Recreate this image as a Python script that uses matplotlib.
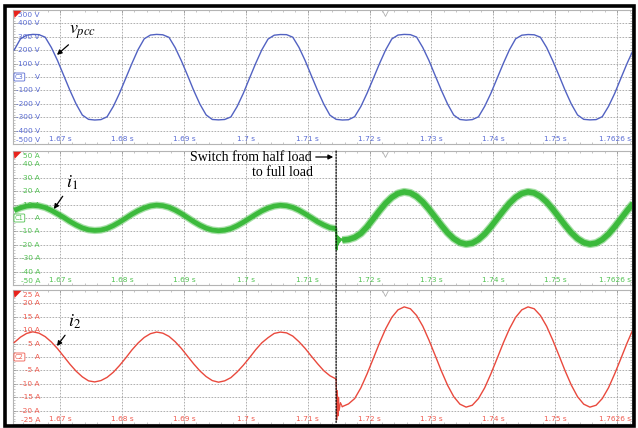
import numpy as np
import matplotlib
matplotlib.use("Agg")
import matplotlib.pyplot as plt
import matplotlib.transforms as mtransforms
from matplotlib.patches import Polygon, Rectangle, ConnectionPatch, FancyArrowPatch

plt.rcParams["mathtext.fontset"] = "stix"

W, H = 638, 428

# ── sampling: 1 ms steps, split at the load step ───────────────────────────
T_START = 1.6626
T_SW = 1.7146          # switch from half load to full load
DT = 0.001
t_before = T_START + DT * np.arange(53)
t_after = T_SW + DT + DT * np.arange(48)
t_all = np.concatenate([t_before, t_after])

# PCC voltage [V]
v_pcc = [
    202, 284, 312, 318, 316, 297, 220, 122, 11, -100,
    -202, -284, -316, -321, -318, -297, -220, -122, -11, 100,
    204, 285, 313, 318, 315, 296, 219, 121, 12, -101,
    -203, -283, -317, -320, -317, -298, -221, -123, -10, 101,
    203, 283, 312, 317, 316, 297, 221, 122, 10, -100,
    -202, -285, -316, -321, -319, -296, -220, -121, -12, 99,
    202, 284, 313, 318, 316, 298, 220, 123, 11, -99,
    -201, -284, -317, -322, -318, -297, -219, -122, -11, 100,
    203, 285, 312, 317, 315, 297, 221, 121, 12, -100,
    -202, -283, -316, -320, -318, -296, -220, -123, -10, 101,
    202,
]

# converter current i1 [A]
i1_before = [
    5.6, 7.6, 8.9, 9.4, 9.0, 7.8, 5.7, 3.1, 0.4, -2.6,
    -5.2, -7.4, -8.8, -9.3, -9.0, -7.8, -5.7, -3.1, -0.2, 2.8,
    5.4, 7.5, 9.0, 9.6, 9.2, 8.0, 5.9, 3.3, 0.3, -2.7,
    -5.4, -7.6, -9.0, -9.5, -9.1, -7.9, -5.8, -3.2, -0.3, 2.6,
    5.3, 7.4, 8.9, 9.5, 9.1, 7.9, 5.8, 3.1, 0.2, -2.8,
    -5.2, -7.2, -8.0,
]
i1_after = [
    -16.5, -16.0, -14.5, -11.5, -6.6, -0.6, 5.4, 11.0, 15.4, 18.3,
    19.5, 18.7, 16.1, 12.0, 6.6, 0.6, -5.4, -11.0, -15.4, -18.3,
    -19.5, -18.7, -16.1, -12.0, -6.6, -0.6, 5.4, 11.0, 15.4, 18.3,
    19.5, 18.7, 16.1, 12.0, 6.6, 0.6, -5.4, -11.0, -15.4, -18.3,
    -19.5, -18.7, -16.1, -12.0, -6.6, -0.6, 5.4, 11.0,
]

# grid current i2 [A]
i2_before = [
    5.4, 7.4, 8.8, 9.4, 8.9, 7.6, 5.6, 3.1, 0.2, -2.7,
    -5.3, -7.4, -8.9, -9.3, -8.8, -7.6, -5.7, -3.2, -0.4, 2.6,
    5.2, 7.3, 8.7, 9.3, 8.9, 7.7, 5.7, 3.2, 0.3, -2.6,
    -5.2, -7.3, -8.8, -9.4, -8.9, -7.7, -5.6, -3.1, -0.3, 2.7,
    5.3, 7.2, 8.8, 9.3, 9.0, 7.8, 5.7, 3.2, 0.3, -2.5,
    -5.1, -7.0, -8.2,
]
i2_after = [
    -18.5, -17.5, -15.5, -11.5, -6.3, -0.6, 5.2, 10.5, 14.8, 17.6,
    18.7, 18.0, 15.5, 11.5, 6.3, 0.6, -5.2, -10.5, -14.8, -17.6,
    -18.7, -18.0, -15.5, -11.5, -6.3, -0.6, 5.2, 10.5, 14.8, 17.6,
    18.7, 18.0, 15.5, 11.5, 6.3, 0.6, -5.2, -10.5, -14.8, -17.6,
    -18.7, -18.0, -15.5, -11.5, -6.3, -0.6, 5.2, 10.5,
]

# ringing right after the switch (offset from T_SW in s)
step_dt = [0, 0.00005, 0.0001, 0.0002, 0.0003, 0.0004, 0.0005, 0.0007, 0.001]
i1_step = [-8.0, -15.0, -23.5, -13.5, -19.5, -14.5, -18.0, -15.5, -16.5]
i2_step = [-8.2, -14.0, -23.5, -12.5, -22.0, -15.0, -20.0, -17.0, -18.5]
t_step = T_SW + np.array(step_dt)

# time axis
grid_t = [1.67, 1.68, 1.69, 1.70, 1.71, 1.72, 1.73, 1.74, 1.75, 1.76]
time_labels = ["1.67 s", "1.68 s", "1.69 s", "1.7 s", "1.71 s",
               "1.72 s", "1.73 s", "1.74 s", "1.75 s"]
END_LABEL = "1.7626 s"
TRIGGER_T = 1.7225

BLUE, BLUE_TXT = "#5262c2", "#5a6cd4"
GREEN, GREEN_TXT = "#3cba3c", "#52c252"
RED, RED_TXT = "#e9493d", "#ef5a4e"
GRID = "#a2a2a2"
LBL = 5.3


def fx(x):
    return x / W


def fy(y):
    return 1 - y / H


fig = plt.figure(figsize=(W / 100, H / 100), dpi=100)
fig.patch.set_facecolor("white")

panels = [(10, 144), (151, 285), (290, 424)]
axes = [fig.add_axes([fx(13), fy(b), fx(632) - fx(13), fy(t) - fy(b)])
        for t, b in panels]
ax1, ax2, ax3 = axes


def scope_panel(ax, vmax, unit, badge, txt_color):
    ax.set_xlim(1.6624, 1.7624)
    ax.set_ylim(-vmax, vmax)
    ticks = np.linspace(-vmax, vmax, 11)
    ax.set_xticks(grid_t)
    ax.set_yticks(ticks)
    ax.set_xticks(np.arange(1.664, 1.7624, 0.002), minor=True)
    ax.set_yticks(np.linspace(-vmax, vmax, 51), minor=True)
    ax.grid(True, which="major", color=GRID, linestyle=(0, (2, 1.6)), linewidth=0.6)
    ax.tick_params(which="both", direction="in", top=True, right=True,
                   labelleft=False, labelbottom=False, color="#9a9a9a")
    ax.tick_params(which="major", length=2.5, width=0.6)
    ax.tick_params(which="minor", length=1.2, width=0.4)
    for s in ax.spines.values():
        s.set_color("#b4b4b4")
        s.set_linewidth(0.8)

    # channel scale on the left
    ytr = mtransforms.blended_transform_factory(ax.transAxes, ax.transData)
    xr = 27 / 619
    for v in ticks:
        v = float(v)
        if abs(v) < 1e-9:
            ax.text(2.0 / 619, 0, badge, transform=ytr, ha="left", va="center",
                    fontsize=4.8, color=txt_color,
                    bbox=dict(boxstyle="round,pad=0.15", fc="white", ec=txt_color, lw=0.6))
            ax.text(xr, 0, unit, transform=ytr, ha="right", va="center",
                    fontsize=LBL, color=txt_color)
            continue
        tr = ytr
        if v == vmax:
            tr = mtransforms.offset_copy(ytr, fig, y=-3.4, units="points")
        elif v == -vmax:
            tr = mtransforms.offset_copy(ytr, fig, y=2.9, units="points")
        ax.text(xr, v, f"{v:g} {unit}", transform=tr, ha="right", va="center",
                fontsize=LBL, color=txt_color)

    # time labels along the bottom
    xtr = mtransforms.blended_transform_factory(ax.transData, ax.transAxes)
    for tt, lab in zip(grid_t, time_labels):
        ax.text(tt, 0.037, lab, transform=xtr, ha="center", va="center",
                fontsize=LBL, color=txt_color)
    ax.text(0.998, 0.037, END_LABEL, transform=ax.transAxes, ha="right",
            va="center", fontsize=LBL, color=txt_color)

    # trigger flag and trigger position marker
    ax.add_patch(Polygon([(0.6 / 619, 1 - 0.8 / 134), (8.5 / 619, 1 - 0.8 / 134),
                          (1.5 / 619, 1 - 8 / 134)], closed=True,
                         transform=ax.transAxes, fc="#e8221c", ec="none", zorder=6))
    ax.plot([TRIGGER_T], [0.975], transform=xtr, marker="v", ms=4.5,
            mfc="white", mec="#b0b0b0", mew=0.6, clip_on=False, zorder=6)


scope_panel(ax1, 500, "V", "C3", BLUE_TXT)
scope_panel(ax2, 50, "A", "C1", GREEN_TXT)
scope_panel(ax3, 25, "A", "C2", RED_TXT)

# traces
ax1.plot(t_all, v_pcc, color=BLUE, lw=1.0, zorder=4)

# i1 carries switching ripple: soft outer band plus solid core
for seg_t, seg_i, w in [(t_before, i1_before, 4.0), (t_after, i1_after, 4.6)]:
    ax2.plot(seg_t, seg_i, color=GREEN, lw=w + 1.2, alpha=0.45,
             solid_capstyle="butt", zorder=4)
    ax2.plot(seg_t, seg_i, color=GREEN, lw=w - 0.6,
             solid_capstyle="butt", zorder=4)
ax2.plot(t_step, i1_step, color=GREEN, lw=1.6, zorder=4)

ax3.plot(t_before, i2_before, color=RED, lw=1.0, zorder=4)
ax3.plot(t_step, i2_step, color=RED, lw=0.8, zorder=4)
ax3.plot(t_after, i2_after, color=RED, lw=1.0, zorder=4)

# switching instant through the two current panels
con = ConnectionPatch(xyA=(T_SW, 50), coordsA=ax2.transData,
                      xyB=(T_SW, -25), coordsB=ax3.transData,
                      color="black", lw=0.9, linestyle=(0, (1.2, 1.2)), zorder=8)
fig.add_artist(con)

# signal names
arw = dict(arrowstyle="-|>", color="black", lw=0.9, mutation_scale=7,
           shrinkA=1, shrinkB=0)
ax1.annotate(r"$v_{pcc}$", xy=(1.6695, 165), xytext=(1.6737, 335),
             ha="center", va="center", fontsize=13, arrowprops=arw, zorder=9)
ax2.annotate(r"$i_1$", xy=(1.6690, 6.7), xytext=(1.6719, 26),
             ha="center", va="center", fontsize=13, arrowprops=arw, zorder=9)
ax3.annotate(r"$i_2$", xy=(1.6695, 4.1), xytext=(1.6724, 13),
             ha="center", va="center", fontsize=13, arrowprops=arw, zorder=9)

fig.text(fx(312), fy(157), "Switch from half load", ha="right", va="center",
         fontsize=10, family="Liberation Serif")
fig.text(fx(313), fy(172), "to full load", ha="right", va="center",
         fontsize=10, family="Liberation Serif")
fig.add_artist(FancyArrowPatch(
    (fx(313), fy(157)), (fx(336), fy(157)), transform=fig.transFigure,
    arrowstyle="-|>", mutation_scale=7, color="black", lw=0.9, zorder=9))

# outer frame
fig.add_artist(Rectangle((fx(5), fy(426)), fx(634) - fx(5), fy(6) - fy(426),
                         transform=fig.transFigure, fill=False, ec="black",
                         lw=2.6, zorder=20))

fig.savefig("out.png", dpi=100, facecolor=fig.get_facecolor())
